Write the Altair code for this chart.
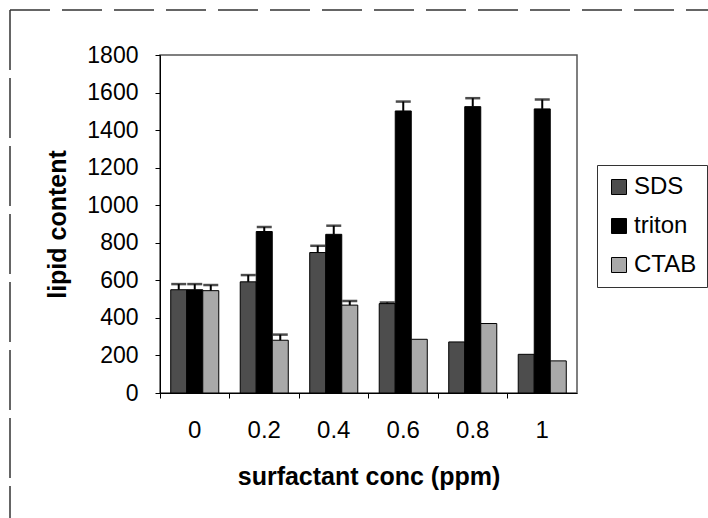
import altair as alt
import pandas as pd

categories = ["0", "0.2", "0.4", "0.6", "0.8", "1"]
series = ["SDS", "triton", "CTAB"]
sds = [550, 592, 748, 476, 272, 206]
triton = [550, 860, 845, 1502, 1525, 1513]
ctab = [545, 281, 468, 286, 370, 171]
sds_err = [30, 36, 36, 6, 0, 0]
triton_err = [30, 24, 46, 50, 45, 50]
ctab_err = [30, 30, 22, 0, 0, 0]
y_ticks = [0, 200, 400, 600, 800, 1000, 1200, 1400, 1600, 1800]

rows = []
for name, vals, errs in [("SDS", sds, sds_err), ("triton", triton, triton_err), ("CTAB", ctab, ctab_err)]:
    for c, v, e in zip(categories, vals, errs):
        rows.append({"conc": c, "surfactant": name, "value": v, "err": e, "top": v + e})
df = pd.DataFrame(rows)
df_err = df[df["err"] > 0]

FONT = "Liberation Sans"
colors = ["#4d4d4d", "#000000", "#a9a9a9"]

x_axis = alt.Axis(labelAngle=0, bandPosition=0, tickSize=5, labelPadding=20,
                  labelFontSize=24, titleFontSize=25, titleFontWeight="bold",
                  titlePadding=22, domainColor="#000", tickColor="#000",
                  labelColor="#000", titleColor="#000", labelFont=FONT, titleFont=FONT,
                  labelBound=False, labelFlush=False)
x_scale = alt.Scale(paddingInner=0, paddingOuter=0)
x = alt.X("conc:N", sort=categories, title="surfactant conc (ppm)", scale=x_scale, axis=x_axis)

y_axis = alt.Axis(values=y_ticks, format="d", labelOverlap=False, grid=False,
                  tickSize=5, labelPadding=17,
                  labelFontSize=23, titleFontSize=25, titleFontWeight="bold",
                  titlePadding=16, domainColor="#000", tickColor="#000",
                  labelColor="#000", titleColor="#000", labelFont=FONT, titleFont=FONT)
y_scale = alt.Scale(domain=[0, 1800], nice=False)

xo = alt.XOffset("surfactant:N", sort=series, scale=alt.Scale(paddingInner=0, paddingOuter=0.67))
color = alt.Color("surfactant:N", sort=series,
                  scale=alt.Scale(domain=series, range=colors),
                  legend=alt.Legend(title=None, orient="none", legendX=437, legendY=110,
                                    symbolType="square", symbolSize=225, symbolStrokeColor="#000",
                                    symbolStrokeWidth=1, labelFontSize=24, labelFont=FONT,
                                    labelColor="#000", rowPadding=15, labelOffset=3,
                                    strokeColor="#333", padding=10))

bars = alt.Chart(df).mark_bar(stroke="#000", strokeWidth=1).encode(
    x=x, xOffset=xo,
    y=alt.Y("value:Q", title="lipid content", scale=y_scale, axis=y_axis),
    color=color,
)

err_rule = alt.Chart(df_err).mark_rule(color="#000", strokeWidth=2).encode(
    x=x, xOffset=xo,
    y=alt.Y("value:Q", title="lipid content", scale=y_scale, axis=y_axis),
    y2="top:Q")
err_cap = alt.Chart(df_err).mark_tick(color="#000", thickness=2.5, size=15).encode(
    x=x, xOffset=xo,
    y=alt.Y("top:Q", title="lipid content", scale=y_scale, axis=y_axis))

frame_top = alt.Chart(pd.DataFrame({"a": [0]})).mark_rule(color="#333", strokeWidth=1.5, strokeDash=[40, 12]).encode(
    x=alt.value(-150), x2=alt.value(560), y=alt.value(-45))
frame_left = alt.Chart(pd.DataFrame({"a": [0]})).mark_rule(color="#333", strokeWidth=1.5, strokeDash=[60, 8]).encode(
    x=alt.value(-150), y=alt.value(-45), y2=alt.value(470))

chart = alt.layer(bars, err_rule, err_cap, frame_top, frame_left).properties(
    width=417, height=338,
    autosize=alt.AutoSizeParams(type="none"),
    padding={"left": 160, "top": 55, "right": 131, "bottom": 125},
    background="white",
).configure_view(stroke="#555", strokeWidth=1.5)

chart.save("out.html", embed_options={"renderer": "svg", "actions": False})
